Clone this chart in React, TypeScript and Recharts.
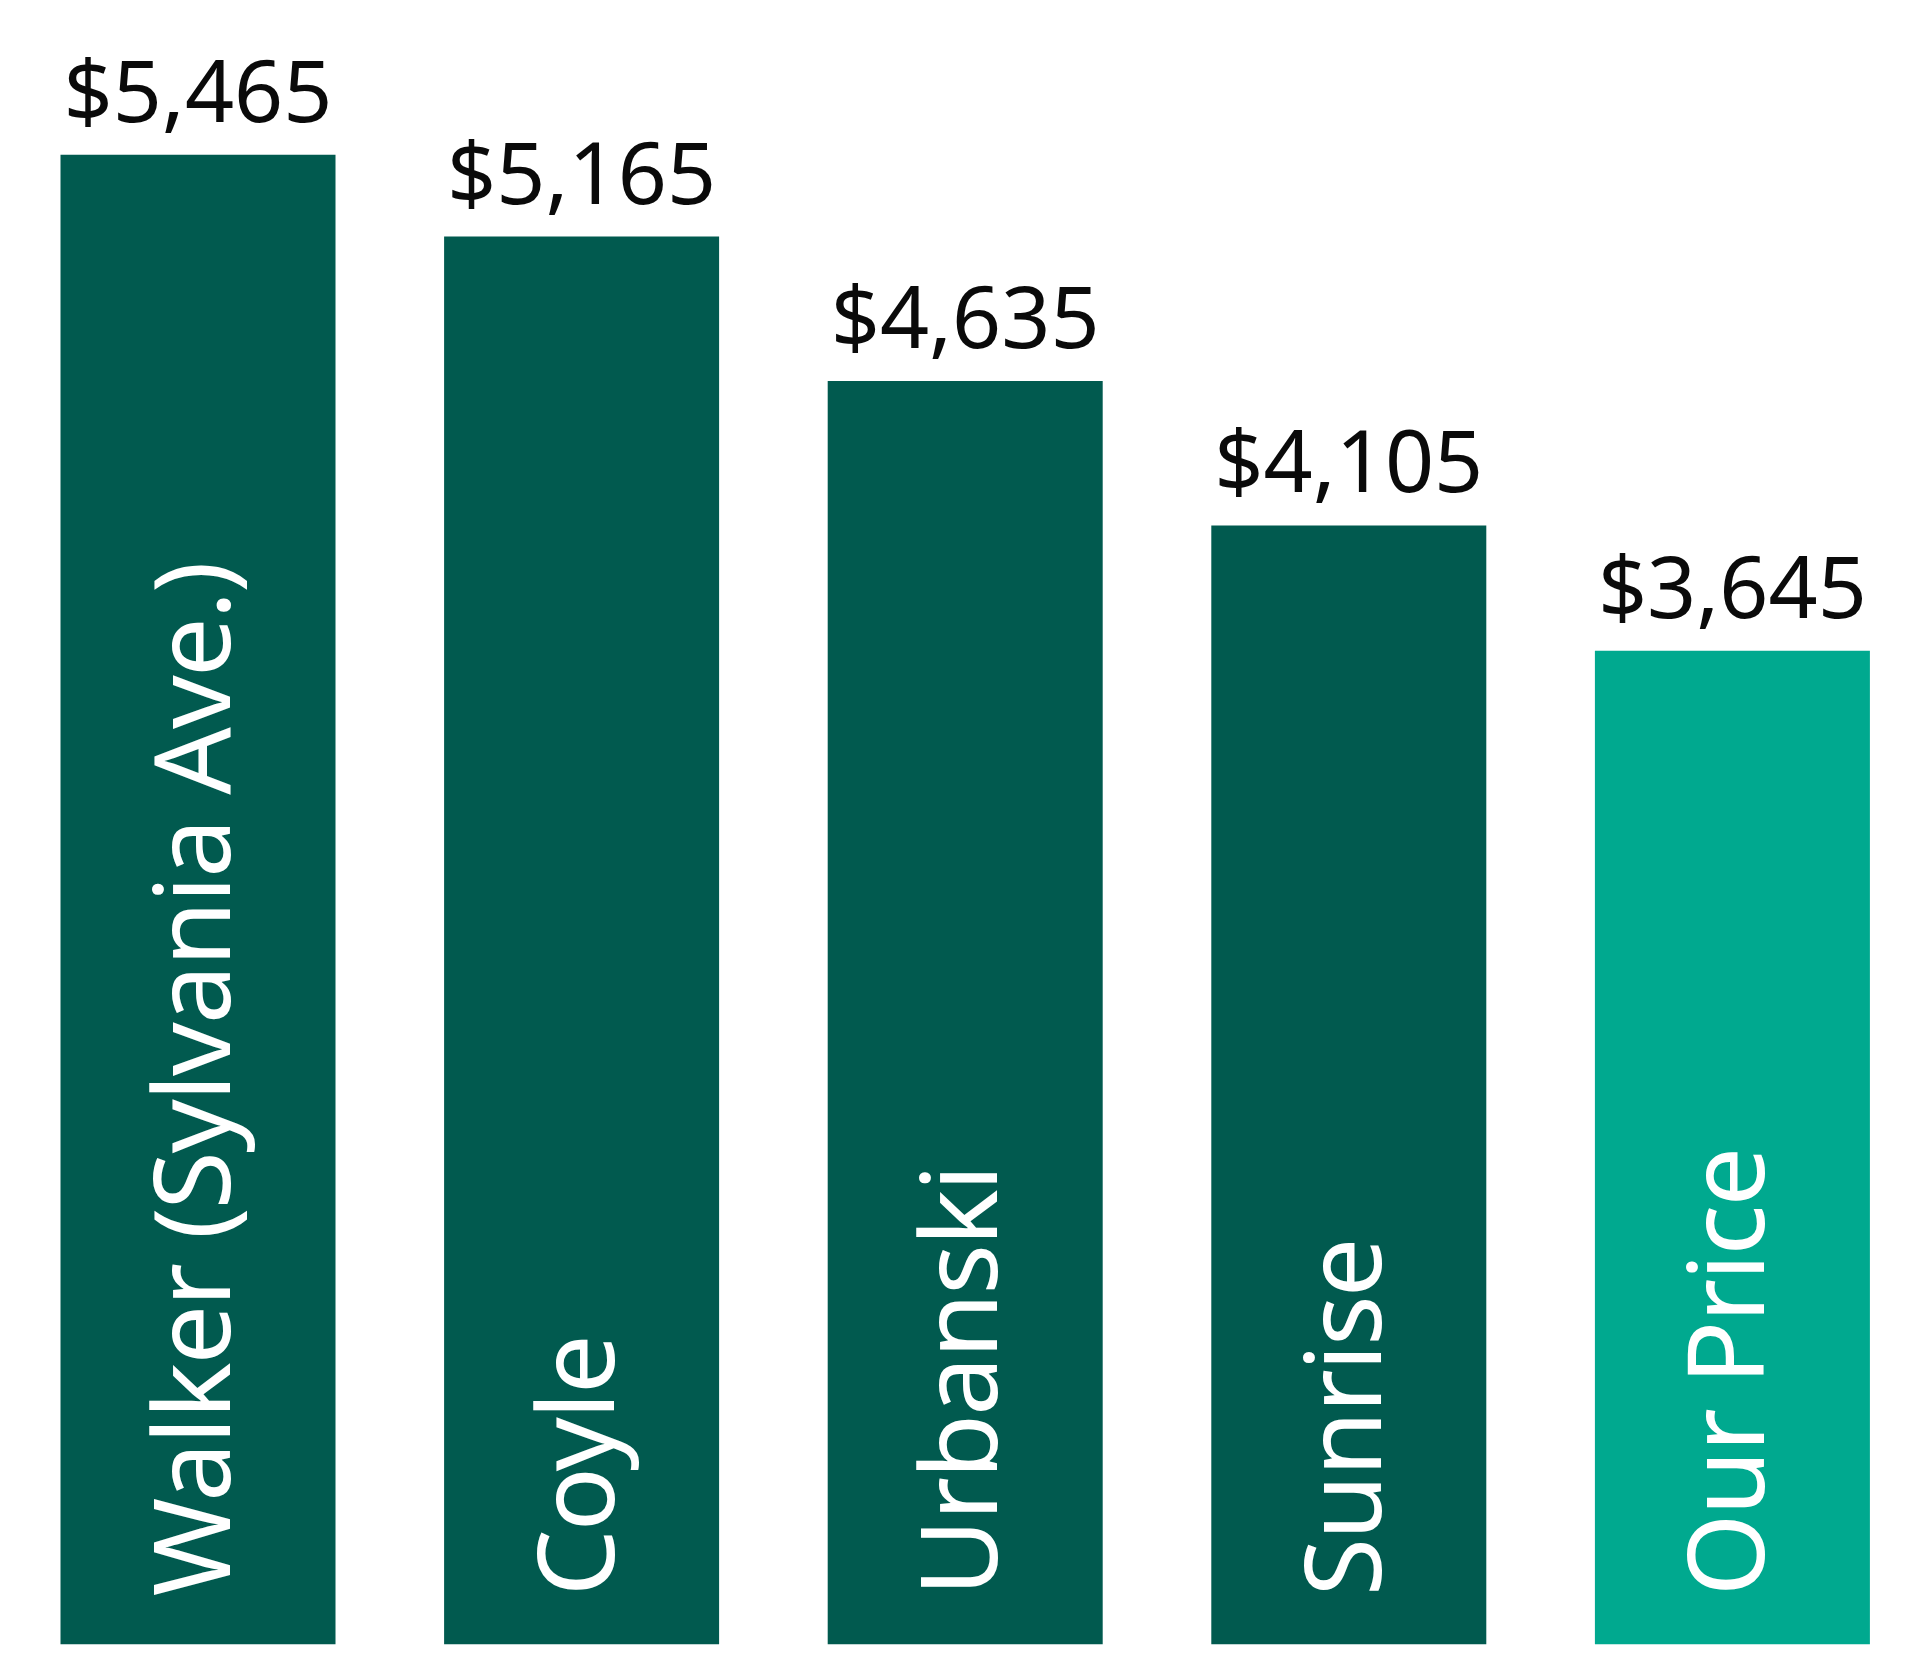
import { BarChart, Bar, XAxis, YAxis, Cell, LabelList } from 'recharts';

const providers = ['Walker (Sylvania Ave.)', 'Coyle', 'Urbanski', 'Sunrise', 'Our Price'];
const prices = [5465, 5165, 4635, 4105, 3645];
const barColors = ['#015a4f', '#015a4f', '#015a4f', '#015a4f', '#00a98f'];

const data = providers.map((name, i) => ({ name, price: prices[i] }));

const FONT = '"Noto Sans", sans-serif';

// provider name, rotated, sitting at the foot of each bar
function renderName(props: any) {
  const box = props.viewBox ?? props;
  const { x, y, width, height } = box;
  const cx = x + width / 2 + 32;
  const startY = y + height - 48;
  return (
    <text
      transform={`translate(${cx},${startY}) rotate(-90)`}
      fill="#ffffff"
      fontSize={106}
      fontFamily={FONT}
      letterSpacing={-2}
      textAnchor="start"
    >
      {props.value}
    </text>
  );
}

export default function App() {
  return (
    <div style={{ position: 'absolute', left: 0, top: 0, width: 1920, height: 1661, overflow: 'hidden', background: '#fff' }}>
      <BarChart
        width={1920}
        height={1661}
        data={data}
        margin={{ top: 9, right: -4.5, left: 6.5, bottom: 16.7 }}
      >
        <XAxis dataKey="name" hide />
        <YAxis hide domain={[0, 6000]} />
        <Bar dataKey="price" barSize={275} isAnimationActive={false}>
          {data.map((d, i) => (
            <Cell key={d.name} fill={barColors[i]} />
          ))}
          <LabelList
            dataKey="price"
            position="top"
            offset={33}
            formatter={(v: any) => `$${Number(v).toLocaleString('en-US')}`}
            fill="#0a0a0a"
            fontSize={86}
            fontFamily={FONT}
          />
          <LabelList dataKey="name" content={renderName} />
        </Bar>
      </BarChart>
    </div>
  );
}
